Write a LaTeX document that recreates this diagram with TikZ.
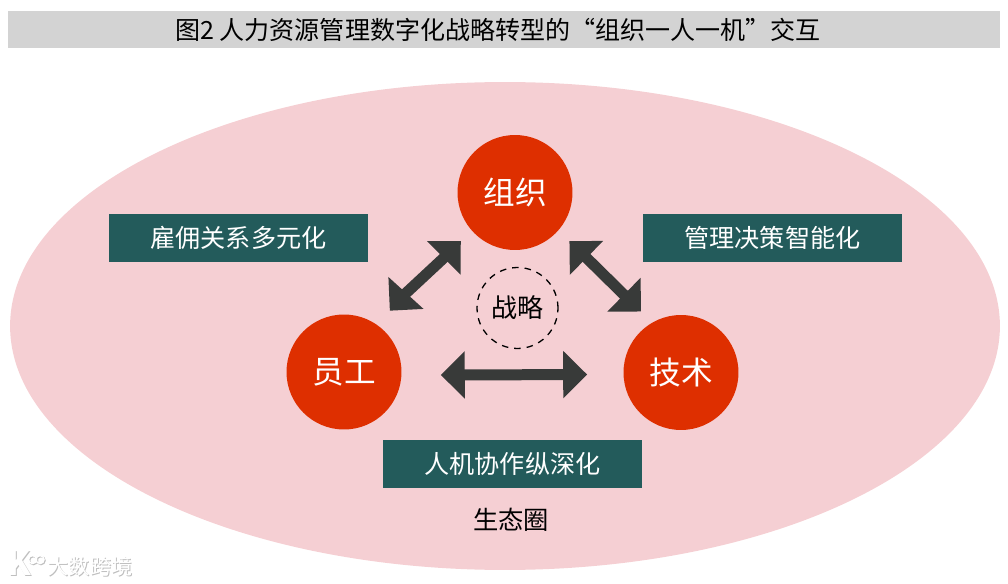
\documentclass[tikz,border=0pt]{standalone}
\usepackage{fontspec}
\setmainfont{Noto Sans CJK SC}
\usetikzlibrary{arrows.meta,shapes.geometric}
\definecolor{ringpink}{HTML}{F5CFD3}
\definecolor{hubred}{HTML}{DE2F00}
\definecolor{tagteal}{HTML}{235B5B}
\definecolor{bargray}{HTML}{D3D3D3}
\definecolor{linkgray}{HTML}{383A39}

\begin{document}
\begin{tikzpicture}[x=0.02cm,y=-0.02cm,
  hub/.style={circle,fill=hubred,text=white,minimum size=2.3cm,inner sep=0pt,font=\fontsize{18}{21}\selectfont},
  tagbox/.style={fill=tagteal,text=white,minimum width=5.18cm,minimum height=0.96cm,inner sep=0pt,font=\fontsize{14.3}{17}\selectfont},
  link/.style={{Triangle[length=0.48cm,width=0.92cm]}-{Triangle[length=0.48cm,width=0.92cm]},linkgray,line width=0.22cm}]
  \useasboundingbox (0,0) rectangle (1008,584);
  % titulo
  \node[fill=bargray,minimum width=19.84cm,minimum height=0.74cm,inner sep=0pt] (titlebar) at (504,29.5) {};
  \node[font=\fontsize{14.25}{17}\selectfont] (title) at (498,29.5) {图2 人力资源管理数字化战略转型的“组织一人一机”交互};
  % elipse de fondo
  \node[ellipse,fill=ringpink,minimum width=19.8cm,minimum height=9.76cm,inner sep=0pt] (eco) at (505,326) {};
  \node[font=\fontsize{14.4}{17}\selectfont] (ecolabel) at (511,520) {生态圈};
  % tres nodos
  \node[hub] (org) at (515,192.5) {组织};
  \node[hub] (staff) at (344,372) {员工};
  \node[hub] (tech) at (681,372.5) {技术};
  \node[circle,draw,line width=0.026cm,dash pattern=on 0.13cm off 0.12cm,minimum size=1.62cm,inner sep=0pt,font=\fontsize{14.8}{17}\selectfont] (core) at (517.5,308) {战略};
  % etiquetas
  \node[tagbox] (hire) at (238.5,238) {雇佣关系多元化};
  \node[tagbox] (decide) at (772.5,238) {管理决策智能化};
  \node[tagbox] (team) at (512.5,464) {人机协作纵深化};
  % flechas
  \draw[link,shorten <=0.376cm,shorten >=0.298cm] (staff.55) -- (org.221.4);
  \draw[link,shorten <=0.302cm,shorten >=0.31cm] (org.-41.2) -- (tech.120.4);
  \draw[link,shorten <=0.78cm,shorten >=0.72cm] (staff.-3) -- (tech.182.5);
  % marca de agua
  \foreach \dx/\tcol in {1/black!25,0/white}{
    \node[text=\tcol,font=\fontsize{12}{14}\selectfont] (mark\dx) at (90+\dx,566+\dx) {大数跨境};
    \node[text=\tcol,font=\bfseries\fontsize{19}{21}\selectfont] (markk\dx) at (19+\dx,563.5+\dx) {K};
    \node[circle,draw=\tcol,line width=0.03cm,minimum size=0.16cm,inner sep=0pt] (marka\dx) at (32.5+\dx,559.5+\dx) {};
    \node[circle,draw=\tcol,line width=0.03cm,minimum size=0.16cm,inner sep=0pt] (markb\dx) at (40+\dx,559.5+\dx) {};
  }
\end{tikzpicture}
\end{document}
